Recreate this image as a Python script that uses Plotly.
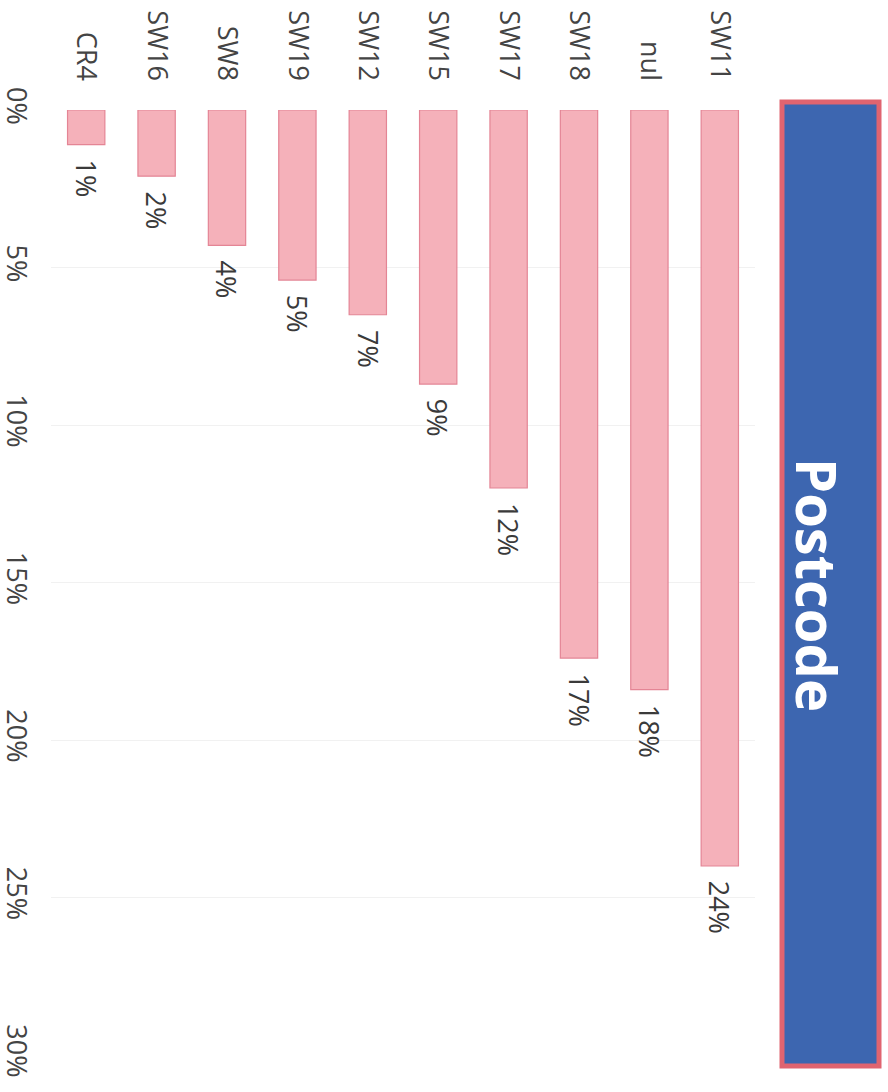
import plotly.graph_objects as go

categories = ["CR4", "SW16", "SW8", "SW19", "SW12", "SW15", "SW17", "SW18", "nul", "SW11"]
values = [1.1, 2.1, 4.3, 5.4, 6.5, 8.7, 12.0, 17.4, 18.4, 24.0]
labels = ["1%", "2%", "4%", "5%", "7%", "9%", "12%", "17%", "18%", "24%"]
tick_vals = [0, 5, 10, 15, 20, 25, 30]
tick_text = ["0%", "5%", "10%", "15%", "20%", "25%", "30%"]
title_text = "Postcode"

W, H = 888, 1092
ml, mr, mt, mb = 51, 133, 110, 37
pw, ph = W - ml - mr, H - mt - mb

def px_x(x):
    return (x - ml) / pw

def px_y(y):
    return 1 - (y - mt) / ph

FONT = "Open Sans"

fig = go.Figure(
    go.Bar(
        x=categories,
        y=values,
        marker=dict(color="#f5b1ba", line=dict(color="#e48595", width=1.2)),
        cliponaxis=False,
        width=0.53,
    )
)

for c, v, t in zip(categories, values, labels):
    fig.add_annotation(
        x=c,
        y=v,
        xref="x",
        yref="y",
        text=t,
        textangle=90,
        showarrow=False,
        yanchor="top",
        xanchor="center",
        yshift=-13,
        font=dict(family=FONT, size=27, color="#3a3a3a"),
    )

fig.update_layout(
    width=W,
    height=H,
    margin=dict(l=ml, r=mr, t=mt, b=mb, pad=0),
    paper_bgcolor="white",
    plot_bgcolor="white",
    showlegend=False,
    xaxis=dict(
        side="top",
        tickangle=90,
        tickfont=dict(family=FONT, size=27, color="#444444"),
        ticklabelstandoff=24,
        automargin=False,
        showgrid=False,
        showline=False,
        ticks="",
        categoryorder="array",
        categoryarray=categories,
    ),
    yaxis=dict(
        range=[30, 0],
        tickvals=tick_vals,
        ticktext=tick_text,
        tickangle=90,
        tickfont=dict(family=FONT, size=27, color="#444444"),
        ticklabelstandoff=16,
        automargin=False,
        showgrid=True,
        gridcolor="#f1f1f1",
        gridwidth=1,
        zeroline=False,
        showline=False,
        ticks="",
    ),
)

fig.add_shape(
    type="rect",
    xref="paper",
    yref="paper",
    x0=px_x(782),
    x1=px_x(879),
    y0=px_y(1066),
    y1=px_y(102),
    fillcolor="#3d66b0",
    line=dict(color="#e06470", width=5),
    layer="above",
)

fig.add_annotation(
    x=px_x(858),
    y=px_y(585),
    xref="paper",
    yref="paper",
    text="<b>" + title_text + "</b>",
    textangle=90,
    showarrow=False,
    font=dict(family="Open Sans", size=56, color="white"),
)

fig.write_html("out.html")
